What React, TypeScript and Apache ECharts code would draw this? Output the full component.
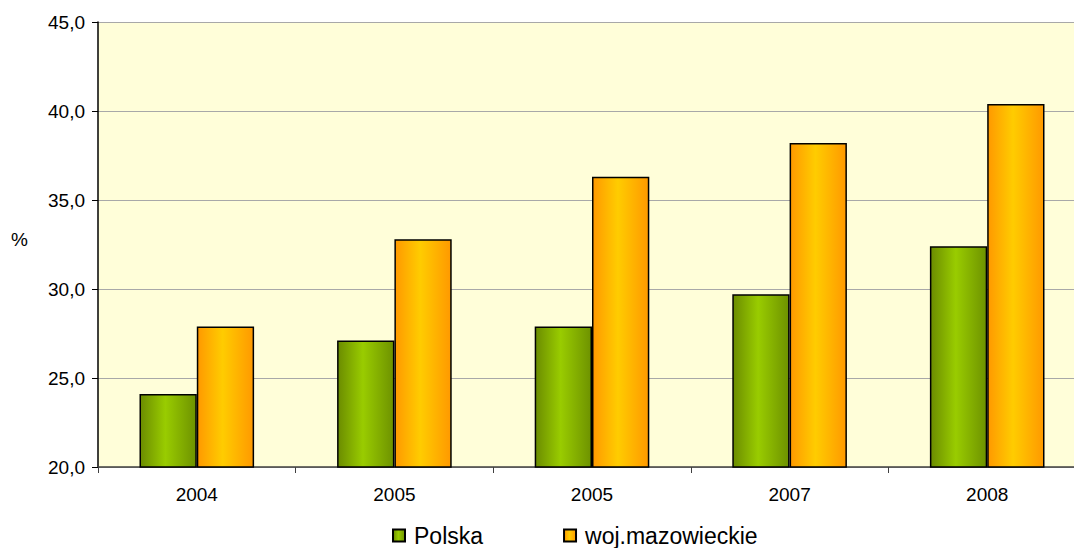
import React, { useEffect, useRef } from "react";
import * as echarts from "echarts";

const categories = ["2004", "2005", "2005", "2007", "2008"];
const polska = [24.1, 27.1, 27.9, 29.7, 32.4];
const mazowieckie = [27.9, 32.8, 36.3, 38.2, 40.4];
const seriesNames = ["Polska", "woj.mazowieckie"];

const FONT = "Liberation Sans, Arial, sans-serif";

function grad(edge1: string, mid: string, edge2: string) {
  return new echarts.graphic.LinearGradient(0, 0, 1, 0, [
    { offset: 0, color: edge1 },
    { offset: 0.45, color: mid },
    { offset: 1, color: edge2 },
  ]);
}

export default function App() {
  const ref = useRef<HTMLDivElement>(null);
  useEffect(() => {
    document.body.style.margin = "0";
    document.body.style.overflow = "hidden";
    if (!ref.current) return;
    const chart = echarts.init(ref.current, null, { renderer: "svg" });
    chart.setOption({
      animation: false,
      backgroundColor: "#ffffff",
      grid: {
        left: 98,
        width: 988,
        top: 22,
        height: 445,
        outerBoundsMode: "none",
        containLabel: false,
        show: true,
        backgroundColor: "#FFFED9",
        borderWidth: 0,
      },
      graphic: [
        {
          type: "text",
          left: 11,
          top: 230,
          style: { text: "%", font: `19px ${FONT}`, fill: "#000" },
        },
      ],
      legend: {
        left: 392,
        top: 524,
        padding: 0,
        itemWidth: 12,
        itemHeight: 12,
        itemGap: 80,
        icon: "rect",
        textStyle: {
          fontFamily: FONT,
          fontSize: 23,
          lineHeight: 23,
          color: "#000",
          padding: [0, 0, 0, 4],
        },
        data: seriesNames,
      },
      xAxis: {
        type: "category",
        data: categories,
        axisLine: { lineStyle: { color: "#404040", width: 1.5 } },
        axisTick: { show: true, alignWithLabel: false, length: 6, lineStyle: { color: "#404040" } },
        axisLabel: { fontFamily: FONT, fontSize: 19, color: "#000", margin: 18 },
      },
      yAxis: {
        type: "value",
        min: 20,
        max: 45,
        interval: 5,
        axisLine: { show: true, lineStyle: { color: "#000", width: 1.5 } },
        axisTick: { show: true, length: 6, lineStyle: { color: "#000" } },
        axisLabel: {
          fontFamily: FONT,
          fontSize: 19,
          color: "#000",
          margin: 13,
          formatter: (v: number) => v.toFixed(1).replace(".", ","),
        },
        splitLine: { lineStyle: { color: "#A8A8A8", width: 1.2 } },
      },
      series: [
        {
          name: seriesNames[0],
          type: "bar",
          data: polska,
          barGap: "0%",
          barCategoryGap: "42%",
          itemStyle: {
            color: grad("#6B8C00", "#99CC00", "#6E9200"),
            borderColor: "#000",
            borderWidth: 1.5,
          },
        },
        {
          name: seriesNames[1],
          type: "bar",
          data: mazowieckie,
          barGap: "0%",
          barCategoryGap: "42%",
          itemStyle: {
            color: grad("#FF9900", "#FFCC00", "#FF9900"),
            borderColor: "#000",
            borderWidth: 1.5,
          },
        },
      ],
    });
    return () => chart.dispose();
  }, []);
  return (
    <div style={{ position: "fixed", left: 0, top: 0, width: 1074, height: 548, overflow: "hidden" }}>
      <div ref={ref} style={{ width: 1074, height: 548 }} />
    </div>
  );
}
